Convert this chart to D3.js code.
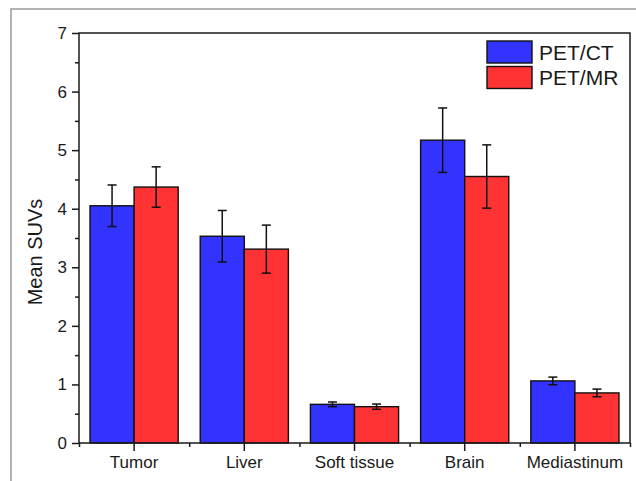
<!DOCTYPE html>
<html>
<head>
  <meta charset="utf-8">
  <title>Mean SUVs</title>
  <script src="https://d3js.org/d3.v7.min.js"></script>
  <style>
    body { margin: 0; background: #fff; }
    svg { display: block; font-family: Arial, "Liberation Sans", sans-serif; }
    .axis path, .axis line { stroke: #1a1a1a; stroke-width: 1.5; }
    .axis text { font-size: 17px; fill: #1a1a1a; }
  </style>
</head>
<body>
  <svg width="636" height="481"></svg>
  <script>
    // values
    var categories = ["Tumor", "Liver", "Soft tissue", "Brain", "Mediastinum"];
    var series = ["PET/CT", "PET/MR"];
    var petct = [4.05, 3.53, 0.66, 5.17, 1.06];
    var petctErr = [0.355, 0.44, 0.04, 0.55, 0.065];
    var petmr = [4.37, 3.31, 0.62, 4.55, 0.855];
    var petmrErr = [0.345, 0.41, 0.045, 0.54, 0.065];
    var yTicks = [0, 1, 2, 3, 4, 5, 6, 7];
    var colors = ["#3333ff", "#ff3333"];

    var margin = {top: 33, right: 6, bottom: 38, left: 79},
        width = 636 - margin.left - margin.right,
        height = 481 - margin.top - margin.bottom;

    var svg = d3.select("svg");

    // outer grey frame (cut off at the bottom and right)
    svg.append("rect")
        .attr("x", 11).attr("y", 9)
        .attr("width", 640).attr("height", 490)
        .attr("fill", "none")
        .attr("stroke", "#9a9a9a")
        .attr("stroke-width", 1.5);

    var g = svg.append("g")
        .attr("transform", "translate(" + margin.left + "," + margin.top + ")");

    var x0 = d3.scaleBand()
        .domain(categories)
        .range([0, width])
        .paddingInner(0.2)
        .paddingOuter(0.1);

    var x1 = d3.scaleBand()
        .domain(series)
        .range([0, x0.bandwidth()]);

    var xEdge = d3.scaleLinear()
        .domain([0, categories.length])
        .range([0, width]);

    var y = d3.scaleLinear()
        .domain([0, 7])
        .range([height, 0]);

    var rows = categories.map(function(c, i) {
      return [
        {cat: c, key: series[0], value: petct[i], err: petctErr[i], color: colors[0]},
        {cat: c, key: series[1], value: petmr[i], err: petmrErr[i], color: colors[1]}
      ];
    });

    var groups = g.selectAll(".group")
        .data(rows)
      .enter().append("g")
        .attr("class", "group")
        .attr("transform", function(d) { return "translate(" + x0(d[0].cat) + ",0)"; });

    groups.selectAll("rect")
        .data(function(d) { return d; })
      .enter().append("rect")
        .attr("x", function(d) { return x1(d.key); })
        .attr("y", function(d) { return y(d.value); })
        .attr("width", x1.bandwidth())
        .attr("height", function(d) { return height - y(d.value); })
        .attr("fill", function(d) { return d.color; })
        .attr("stroke", "#111")
        .attr("stroke-width", 1.4);

    // error bars
    var eb = groups.selectAll(".err")
        .data(function(d) { return d; })
      .enter().append("g")
        .attr("class", "err")
        .attr("stroke", "#111")
        .attr("stroke-width", 1.5);

    var cx = function(d) { return x1(d.key) + x1.bandwidth() / 2; };

    eb.append("line")
        .attr("x1", cx).attr("x2", cx)
        .attr("y1", function(d) { return y(d.value + d.err); })
        .attr("y2", function(d) { return y(d.value - d.err); });
    eb.append("line")
        .attr("x1", function(d) { return cx(d) - 4.5; })
        .attr("x2", function(d) { return cx(d) + 4.5; })
        .attr("y1", function(d) { return y(d.value + d.err); })
        .attr("y2", function(d) { return y(d.value + d.err); });
    eb.append("line")
        .attr("x1", function(d) { return cx(d) - 4.5; })
        .attr("x2", function(d) { return cx(d) + 4.5; })
        .attr("y1", function(d) { return y(d.value - d.err); })
        .attr("y2", function(d) { return y(d.value - d.err); });

    // axes
    g.append("g")
        .attr("class", "axis")
        .call(d3.axisLeft(y).tickValues(yTicks).tickSize(7).tickPadding(5).tickFormat(d3.format("d")))
        .call(function(s) { s.select(".domain").remove(); });

    g.append("g")
        .attr("class", "axis")
        .call(d3.axisLeft(y).tickValues(yTicks.slice(1).map(function(v) { return v - 0.5; })).tickSize(4).tickFormat(""))
        .call(function(s) { s.select(".domain").remove(); });

    g.append("g")
        .attr("class", "axis")
        .attr("transform", "translate(0," + height + ")")
        .call(d3.axisBottom(x0).tickSize(8).tickPadding(5))
        .call(function(s) { s.select(".domain").remove(); });

    g.append("g")
        .attr("class", "axis")
        .attr("transform", "translate(0," + height + ")")
        .call(d3.axisBottom(xEdge).ticks(categories.length).tickSize(4).tickFormat(""))
        .call(function(s) { s.select(".domain").remove(); });

    // plot frame
    g.append("rect")
        .attr("width", width)
        .attr("height", height)
        .attr("fill", "none")
        .attr("stroke", "#1a1a1a")
        .attr("stroke-width", 1.5);

    // y label
    g.append("text")
        .attr("transform", "rotate(-90)")
        .attr("x", -(height / 2 + 14))
        .attr("y", -37)
        .attr("text-anchor", "middle")
        .attr("font-size", "20px")
        .attr("fill", "#1a1a1a")
        .text("Mean SUVs");

    // legend
    var legend = g.selectAll(".legend")
        .data(series)
      .enter().append("g")
        .attr("class", "legend")
        .attr("transform", function(d, i) { return "translate(" + (width - 143) + "," + (8 + i * 25.5) + ")"; });

    legend.append("rect")
        .attr("width", 45)
        .attr("height", 22)
        .attr("fill", function(d, i) { return colors[i]; })
        .attr("stroke", "#111")
        .attr("stroke-width", 1.4);

    legend.append("text")
        .attr("x", 52)
        .attr("y", 18.5)
        .attr("font-size", "21px")
        .attr("fill", "#1a1a1a")
        .text(function(d) { return d; });
  </script>
</body>
</html>
